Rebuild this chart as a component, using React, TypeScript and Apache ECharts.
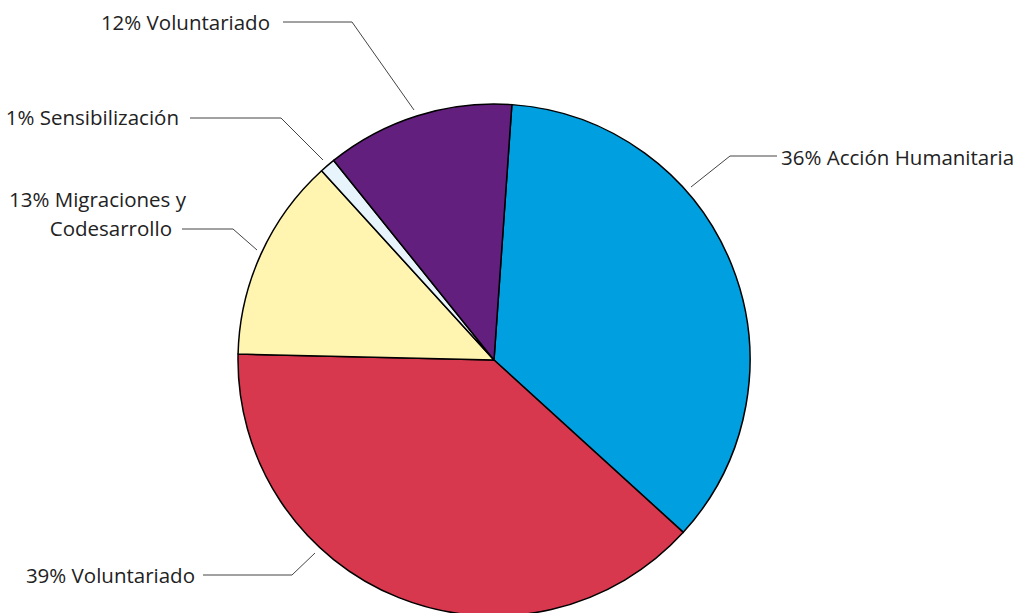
import React, { useEffect, useRef } from "react";
import * as echarts from "echarts";

const categories = [
  "Acción Humanitaria",
  "Voluntariado",
  "Migraciones y\nCodesarrollo",
  "Sensibilización",
  "Voluntariado",
];
const values = [36, 39, 13, 1, 12];
const colors = ["#009FE0", "#D8384D", "#FFF5B0", "#E8F4FC", "#621F7D"];

// label placement (layout only)
const labelPos: { x: number; y: number; align: string; line: number[][] }[] = [
  { x: 781, y: 157, align: "left", line: [[691, 187], [730, 156], [777, 156]] },
  { x: 195, y: 575, align: "right", line: [[315, 553], [292, 575], [203, 575]] },
  { x: 186, y: 213, align: "right", line: [[257, 250], [233, 229], [182, 229]] },
  { x: 179, y: 117, align: "right", line: [[323, 160], [281, 118], [190, 118]] },
  { x: 270, y: 22, align: "right", line: [[414, 110], [352, 22], [283, 22]] },
];

export default function App() {
  const ref = useRef<HTMLDivElement>(null);
  useEffect(() => {
    if (!ref.current) return;
    const chart = echarts.init(ref.current, undefined, { renderer: "svg" });
    const font = "'Open Sans', 'Noto Sans', sans-serif";
    chart.setOption({
      animation: false,
      backgroundColor: "#ffffff",
      series: [
        {
          type: "pie",
          center: [494, 360],
          radius: 256,
          startAngle: 86,
          clockwise: true,
          silent: true,
          data: categories.map((name, i) => ({
            name,
            value: values[i],
            itemStyle: { color: colors[i] },
          })),
          itemStyle: { borderColor: "#000000", borderWidth: 1.5 },
          label: {
            show: true,
            formatter: (p: any) => {
              const lines = String(p.name).split("\n");
              if (lines.length > 1) {
                return `{a|${p.value}% ${lines[0]}}\n{b|${lines[1]}}`;
              }
              return `${p.value}% ${p.name}`;
            },
            fontFamily: font,
            fontSize: 20.5,
            lineHeight: 29,
            color: "#222222",
            rich: {
              a: { fontFamily: font, fontSize: 20.5, lineHeight: 29, color: "#222222" },
              b: {
                fontFamily: font,
                fontSize: 20.5,
                lineHeight: 29,
                color: "#222222",
                padding: [0, 14, 0, 0],
              },
            },
          },
          labelLine: {
            show: true,
            lineStyle: { color: "#444444", width: 1 },
          },
          labelLayout: (params: any) => {
            const lp = labelPos[params.dataIndex];
            return {
              x: lp.x,
              y: lp.y,
              align: lp.align,
              verticalAlign: "middle",
              labelLinePoints: lp.line,
            };
          },
        },
      ],
    });
    return () => chart.dispose();
  }, []);
  return (
    <div
      ref={ref}
      style={{ position: "fixed", left: 0, top: 0, width: 1028, height: 613 }}
    />
  );
}
